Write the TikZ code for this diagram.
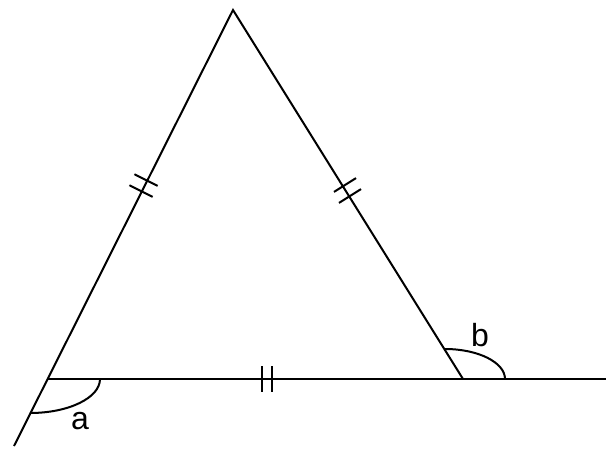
\documentclass[tikz,border=0pt]{standalone}
\usepackage{fontspec}
\setmainfont{Liberation Sans}

\begin{document}
\begin{tikzpicture}[line join=miter,x=1pt,y=-1pt,line width=2pt]
        \useasboundingbox (0,0) rectangle (608,453);
        \coordinate (A) at (233,10);
        \coordinate (B) at (47,379);
        \coordinate (C) at (463,379);
        \coordinate (E) at (14,446);
        \coordinate (F) at (606,379);
        \draw (E)-- (A) -- (C);
        \draw (B)-- (F);
        % equal sides
        \draw (134.4,174.2) -- (157.6,185.9);
        \draw (129.4,185.2) -- (152.6,196.9);
        \draw (334.0,191.9) -- (356.0,178.1);
        \draw (339.0,202.9) -- (361.0,189.1);
        \draw (262,366) -- (262,392);
        \draw (272,366) -- (272,392);
        % angles
        \draw (100,379) .. controls (100,397.8) and (68.7,413) .. (30,413);
        \draw (505,379) .. controls (505,362.4) and (478.1,349) .. (445,349);
        \node[font=\fontsize{32}{36}\selectfont] (la) at (80,421) {a};
        \node[font=\fontsize{32}{36}\selectfont] (lb) at (480,335) {b};
    \end{tikzpicture}
\end{document}
